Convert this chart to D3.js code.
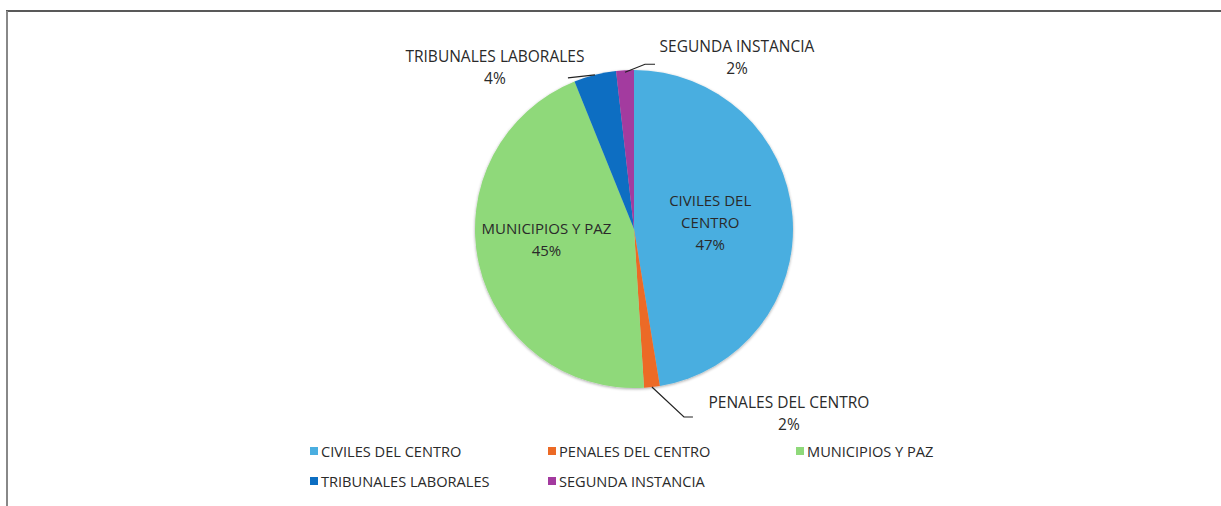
<!DOCTYPE html>
<html><head><meta charset="utf-8">
<script src="https://cdn.jsdelivr.net/npm/d3@7"></script>
<style>html,body{margin:0;padding:0;background:#fff;}svg{display:block;font-family:"Open Sans",sans-serif;}</style>
</head><body>
<svg id="c" width="1221" height="506"></svg>
<script>
const categories = ["CIVILES DEL CENTRO","PENALES DEL CENTRO","MUNICIPIOS Y PAZ","TRIBUNALES LABORALES","SEGUNDA INSTANCIA"];
const values = [47.4, 1.6, 44.9, 4.3, 1.8];
const colors = ["#4AAEE0","#EC6A25","#8FD97A","#0C6EC2","#A33A9F"];
const insideLines = [["CIVILES DEL","CENTRO"],null,["MUNICIPIOS Y PAZ"],null,null];

const svg = d3.select("#c");
// frame
svg.append("line").attr("x1",6).attr("x2",1221).attr("y1",11).attr("y2",11).attr("stroke","#222").attr("stroke-width",1.5);
svg.append("line").attr("x1",7).attr("x2",7).attr("y1",11).attr("y2",506).attr("stroke","#888").attr("stroke-width",2);

const cx = 634, cy = 229, R = 159;
const total = d3.sum(values);
const pie = d3.pie().sort(null).value(d=>d)(values);
const arc = d3.arc().innerRadius(0).outerRadius(R);
const g = svg.append("g").attr("transform",`translate(${cx},${cy})`);
const defs = svg.append("defs");
const f = defs.append("filter").attr("id","sh").attr("x","-10%").attr("y","-10%").attr("width","120%").attr("height","120%");
f.append("feGaussianBlur").attr("in","SourceAlpha").attr("stdDeviation",1.5).attr("result","b");
f.append("feOffset").attr("in","b").attr("dx",0).attr("dy",0.5).attr("result","o");
f.append("feComponentTransfer").attr("in","o").attr("result","o2").append("feFuncA").attr("type","linear").attr("slope",0.35);
const fm = f.append("feMerge"); fm.append("feMergeNode").attr("in","o2"); fm.append("feMergeNode").attr("in","SourceGraphic");
const slices = g.append("g").attr("filter","url(#sh)");
slices.selectAll("path").data(pie).join("path").attr("d",arc).attr("fill",(d,i)=>colors[i]);

const pct = v => Math.round(v/total*100) + "%";
const txtColor = "#2a2a2a";
const lh = 22;
function multi(x, y, lines, fs){
  const t = svg.append("text").attr("x",x).attr("y",y).attr("text-anchor","middle").attr("fill",txtColor).attr("font-size",fs);
  lines.forEach((l,k)=>t.append("tspan").attr("x",x).attr("dy",k===0?0:lh).text(l));
}
// inside labels
const lab0 = d3.arc().innerRadius(R*0.5).outerRadius(R*0.5);
pie.forEach((d,i)=>{
  if(!insideLines[i]) return;
  const [x,y] = lab0.centroid(d);
  const lines = insideLines[i].concat([pct(values[i])]);
  const y0 = cy + y - (lines.length-1)*lh/2 + 5;
  multi(cx + x + (i===0? -3 : -10), y0 + (i===0? 0: -7), lines, 15);
});
// outside labels with leaders
function edgePt(d){ const a=(d.startAngle+d.endAngle)/2; return [cx+R*Math.sin(a), cy-R*Math.cos(a)]; }
const outer = [
  {i:3, pts:(p)=>[p,[p[0]-27,p[1]+3]], lx:-100, ly:-13},
  {i:4, pts:(p)=>[[p[0],p[1]+2],[p[0]+20,p[1]-6],[p[0]+30,p[1]-6]], lx:112, ly:-18},
  {i:1, pts:(p)=>[p,[p[0]+32,p[1]+30],[p[0]+41,p[1]+30]], lx:137, ly:21}
];
outer.forEach(o=>{
  const d = pie[o.i]; const p = edgePt(d);
  svg.append("path").attr("d",d3.line()(o.pts(p))).attr("fill","none").attr("stroke","#222").attr("stroke-width",1.2);
  multi(p[0]+o.lx, p[1]+o.ly, [categories[o.i], pct(values[o.i])], 15.5);
});
// legend
const legX = [314, 552, 800], legY = [451, 481];
categories.forEach((c,i)=>{
  const x = legX[i%3], y = legY[Math.floor(i/3)];
  svg.append("rect").attr("x",x-4).attr("y",y-4).attr("width",8).attr("height",8).attr("fill",colors[i]);
  svg.append("text").attr("x",x+7).attr("y",y+5.5).attr("fill",txtColor).attr("font-size",14.6).text(c);
});
</script>
</body></html>
